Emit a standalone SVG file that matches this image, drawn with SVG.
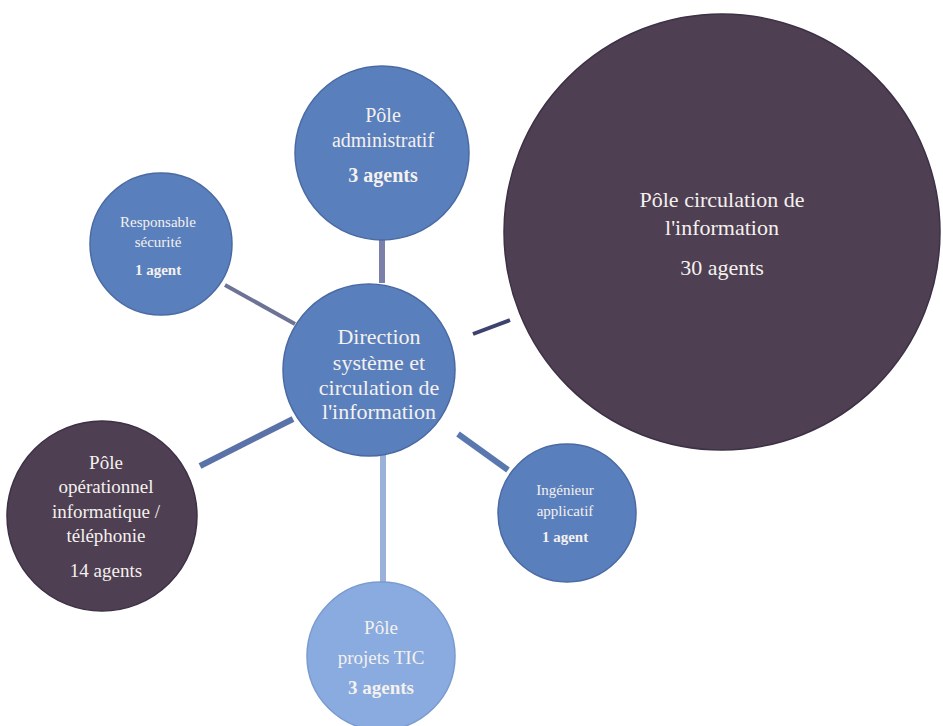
<svg xmlns="http://www.w3.org/2000/svg" width="943" height="726" viewBox="0 0 943 726">
<style>
  text { font-family: "Liberation Serif", "Times New Roman", serif; fill: #f4f1ee; text-anchor: middle; }
  .b { font-weight: bold; }
  .blue { fill: #5a7fbd; stroke: #4a6aa4; stroke-width: 1.5; }
  .dark { fill: #4f3f52; stroke: #3d3145; stroke-width: 1.5; }
  .c { fill: none; stroke-linecap: butt; }
</style>
<rect width="943" height="726" fill="#ffffff"/>
<g id="connectors">
  <line class="c" x1="382" y1="240" x2="382" y2="283" stroke="#7b80aa" stroke-width="6"/>
  <line class="c" x1="225" y1="285" x2="295" y2="324" stroke="#6c7395" stroke-width="4"/>
  <line class="c" x1="473" y1="334" x2="510" y2="320" stroke="#3d4270" stroke-width="4"/>
  <line class="c" x1="200" y1="466" x2="293" y2="419" stroke="#5a72a8" stroke-width="6"/>
  <line class="c" x1="458" y1="434" x2="508" y2="470" stroke="#5a78b0" stroke-width="6"/>
  <line class="c" x1="383" y1="455" x2="383" y2="588" stroke="#9ab2da" stroke-width="6"/>
</g>
<g id="pole-circulation">
  <circle class="dark" cx="722" cy="232" r="218" fill="#54435a"/>
  <text x="722" y="207" font-size="22">Pôle circulation de</text>
  <text x="722" y="235" font-size="22">l'information</text>
  <text x="722" y="275" font-size="22">30 agents</text>
</g>
<g id="pole-administratif">
  <circle class="blue" cx="382" cy="153" r="87" fill="#6189c4"/>
  <text x="383" y="122" font-size="20">Pôle</text>
  <text x="383" y="147" font-size="20">administratif</text>
  <text class="b" x="383" y="182" font-size="20">3 agents</text>
</g>
<g id="responsable-securite">
  <circle class="blue" cx="161" cy="244" r="71"/>
  <text x="158" y="227" font-size="15">Responsable</text>
  <text x="158" y="247" font-size="15">sécurité</text>
  <text class="b" x="158" y="275" font-size="15">1 agent</text>
</g>
<g id="direction">
  <circle class="blue" cx="369" cy="370" r="86" fill="#5179b6"/>
  <text x="379" y="344" font-size="22">Direction</text>
  <text x="379" y="370" font-size="22">système et</text>
  <text x="379" y="395" font-size="22">circulation de</text>
  <text x="379" y="419" font-size="22">l'information</text>
</g>
<g id="pole-operationnel">
  <circle class="dark" cx="102" cy="516" r="95" fill="#4c3848"/>
  <text x="106" y="469" font-size="19">Pôle</text>
  <text x="106" y="493" font-size="19">opérationnel</text>
  <text x="106" y="518" font-size="19">informatique /</text>
  <text x="106" y="542" font-size="19">téléphonie</text>
  <text x="106" y="577" font-size="19">14 agents</text>
</g>
<g id="ingenieur-applicatif">
  <circle class="blue" cx="567" cy="513" r="69" fill="#5177b6"/>
  <text x="565" y="495" font-size="15">Ingénieur</text>
  <text x="565" y="516" font-size="15">applicatif</text>
  <text class="b" x="565" y="542" font-size="15">1 agent</text>
</g>
<g id="pole-projets-tic">
  <circle cx="381" cy="656" r="74" fill="#89abdf" stroke="#7a9bd0" stroke-width="1.5"/>
  <text x="381" y="634" font-size="19">Pôle</text>
  <text x="381" y="664" font-size="19">projets TIC</text>
  <text class="b" x="381" y="694" font-size="19">3 agents</text>
</g>
</svg>
